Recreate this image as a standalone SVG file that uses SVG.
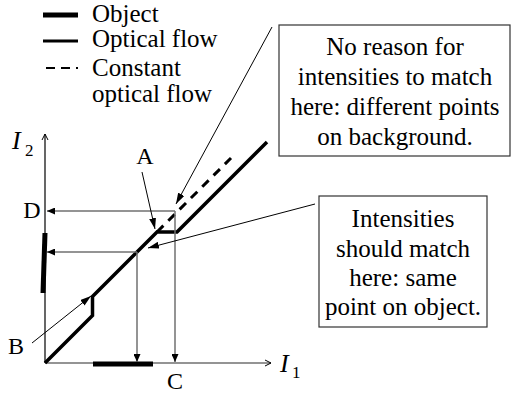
<svg xmlns="http://www.w3.org/2000/svg" width="512" height="394" viewBox="0 0 512 394">
<defs>
<style>
.lbl{font-size:24px;text-anchor:middle}
.box{font-size:25px;text-anchor:middle}
.leg{font-size:25px}
.ax{font-size:26px;font-style:italic}
.sub{font-size:17px}
.gray{stroke:#707070;stroke-width:1.5;fill:none}
.thin{stroke:#000;stroke-width:1;fill:none}
.frame{fill:#fff;stroke:#333;stroke-width:1.2}
</style>
<marker id="ah" markerUnits="userSpaceOnUse" markerWidth="8" markerHeight="7" refX="8" refY="3.5" orient="auto"><path d="M0,0 L8,3.5 L0,7 z" fill="#000"/></marker>
<marker id="ch" markerUnits="userSpaceOnUse" markerWidth="11" markerHeight="7" refX="11" refY="3.5" orient="auto"><path d="M0,0 L11,3.5 L0,7 z" fill="#000"/></marker>
<marker id="ax" markerUnits="userSpaceOnUse" markerWidth="8" markerHeight="8" refX="6" refY="4" orient="auto"><path d="M0,1 L6,4 L0,7" fill="none" stroke="#000" stroke-width="1"/></marker>
</defs>

<g font-family="'Liberation Serif', 'DejaVu Serif', serif" fill="#000">
<g id="legend">
<line x1="43" y1="15" x2="78" y2="15" stroke="#000" stroke-width="5"/>
<line x1="43" y1="41" x2="78" y2="41" stroke="#000" stroke-width="3"/>
<line x1="46" y1="68" x2="78" y2="68" stroke="#000" stroke-width="2" stroke-dasharray="9 6"/>
<text class="leg" x="92" y="22">Object</text>
<text class="leg" x="92" y="47">Optical flow</text>
<text class="leg" x="92" y="76">Constant</text>
<text class="leg" x="92" y="102">optical flow</text>
</g>

<g id="axes">
<line x1="45" y1="363" x2="45" y2="134" stroke="#000" stroke-width="1.2" marker-end="url(#ax)"/>
<line x1="45" y1="363" x2="271" y2="363" stroke="#707070" stroke-width="1.5" marker-end="url(#ax)"/>
<text class="ax" x="12" y="149">I</text><text class="sub" x="25" y="156">2</text>
<text class="ax" x="280" y="372">I</text><text class="sub" x="292" y="378">1</text>
</g>

<g id="objects">
<line x1="93" y1="364" x2="153" y2="364" stroke="#000" stroke-width="5"/>
<line x1="45" y1="233" x2="43" y2="293" stroke="#000" stroke-width="5"/>
</g>

<g id="curves">
<polyline points="45,363 92.5,315.5 92.5,296.5 157,232 177,232 267,142" fill="none" stroke="#000" stroke-width="3.5" stroke-linejoin="miter"/>
<line x1="157" y1="232" x2="231" y2="158" stroke="#000" stroke-width="3" stroke-dasharray="9 7"/>
</g>

<g id="connectors">
<path class="gray" d="M175,211 L47,211" marker-end="url(#ah)"/>
<path class="gray" d="M175,211 L175,362" marker-end="url(#ah)"/>
<path class="gray" d="M137,252 L47,252" marker-end="url(#ah)"/>
<path class="gray" d="M137,252 L137,362" marker-end="url(#ah)"/>
<path class="thin" d="M272,27 L176,204" marker-end="url(#ch)"/>
<path class="thin" d="M315,204 L148,248" marker-end="url(#ch)"/>
<path class="thin" d="M142,172 L155,229" marker-end="url(#ch)"/>
<path class="thin" d="M32,343 L91,296" marker-end="url(#ch)"/>
</g>

<g id="labels">
<text class="lbl" x="145" y="164">A</text>
<text class="lbl" x="16" y="354">B</text>
<text class="lbl" x="32" y="218">D</text>
<text class="lbl" x="175" y="389">C</text>
</g>

<g id="note1">
<rect class="frame" x="279" y="25" width="231" height="131"/>
<text class="box" x="395" y="55">No reason for</text>
<text class="box" x="395" y="85">intensities to match</text>
<text class="box" x="395" y="115">here: different points</text>
<text class="box" x="395" y="145">on background.</text>
</g>

<g id="note2">
<rect class="frame" x="319" y="196" width="168" height="131"/>
<text class="box" x="403" y="227">Intensities</text>
<text class="box" x="403" y="257">should match</text>
<text class="box" x="403" y="286">here: same</text>
<text class="box" x="403" y="315">point on object.</text>
</g>
</g>
</svg>
